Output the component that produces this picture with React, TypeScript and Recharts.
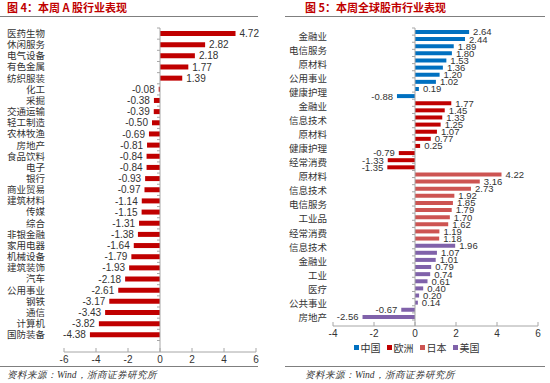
import React from 'react';
import { BarChart, Bar, XAxis, YAxis, Cell, LabelList, ReferenceLine, Legend } from 'recharts';

// ---------- Left chart: A-share industries ----------
const aShareCategories = [
  '医药生物', '休闲服务', '电气设备', '有色金属', '纺织服装', '化工', '采掘', '交通运输',
  '轻工制造', '农林牧渔', '房地产', '食品饮料', '电子', '银行', '商业贸易', '建筑材料',
  '传媒', '综合', '非银金融', '家用电器', '机械设备', '建筑装饰', '汽车', '公用事业',
  '钢铁', '通信', '计算机', '国防装备',
];
const aShareValues = [
  4.72, 2.82, 2.18, 1.77, 1.39, -0.08, -0.38, -0.39,
  -0.5, -0.69, -0.81, -0.84, -0.84, -0.93, -0.97, -1.14,
  -1.15, -1.31, -1.38, -1.64, -1.79, -1.93, -2.18, -2.61,
  -3.17, -3.43, -3.82, -4.38,
];
const leftTicks = [-6, -4, -2, 0, 2, 4, 6];

// ---------- Right chart: global industries ----------
const regionNames = ['中国', '欧洲', '日本', '美国'];
const regionColors = ['#0070C0', '#C00000', '#CD5452', '#8062AA'];
const cnLabels = ['金融业', '', '电信服务', '', '原材料', '', '公用事业', '', '健康护理', ''];
const cnValues = [2.64, 2.44, 1.89, 1.8, 1.53, 1.36, 1.2, 1.02, 0.19, -0.88];
const euLabels = ['金融业', '', '信息技术', '', '原材料', '', '健康护理', '', '经常消费', ''];
const euValues = [1.77, 1.45, 1.33, 1.25, 1.07, 0.77, 0.25, -0.79, -1.33, -1.35];
const jpLabels = ['原材料', '', '信息技术', '', '电信服务', '', '工业品', '', '经常消费', ''];
const jpValues = [4.22, 3.16, 2.73, 1.92, 1.85, 1.79, 1.7, 1.62, 1.19, 1.18];
const usLabels = ['信息技术', '', '金融业', '', '工业', '', '医疗', '', '公共事业', '', '房地产'];
const usValues = [1.96, 1.07, 1.01, 0.79, 0.74, 0.61, 0.4, 0.2, 0.14, -0.67, -2.56];
const rightTicks = [-4, -2, 0, 2, 4, 6];

const leftData = aShareCategories.map((name, i) => ({ idx: i, name, value: aShareValues[i] }));

const groups = [
  { labels: cnLabels, values: cnValues },
  { labels: euLabels, values: euValues },
  { labels: jpLabels, values: jpValues },
  { labels: usLabels, values: usValues },
];
const rightData: { idx: number; name: string; value: number; region: number }[] = [];
groups.forEach((g, r) => {
  g.values.forEach((v, i) => {
    rightData.push({ idx: rightData.length, name: g.labels[i], value: v, region: r });
  });
});

const CJK = '"Noto Sans CJK SC", "Noto Sans", sans-serif';
const NUM = '"Liberation Sans", Arial, sans-serif';
const TEXT = '#333333';
const AXIS = '#A6A6A6';

const makeYTick = (names: string[], fontSize: number, shift: (i: number) => number) => (props: any) => {
  const { x, y, payload } = props;
  const i = Number(payload.value);
  const t = names[i];
  if (!t) return <g />;
  return (
    <text x={x} y={y + shift(i)} dy="0.35em" textAnchor="end" fontSize={fontSize} fontFamily={CJK} fill={TEXT}>
      {t}
    </text>
  );
};

const makeXTick = (margin: number) => (props: any) => {
  const { x, y, payload } = props;
  return (
    <g>
      <line x1={x} x2={x} y1={y - margin} y2={y - margin - 4} stroke={AXIS} strokeWidth={1} />
      <text x={x} y={y} dy="0.71em" textAnchor="middle" fontSize={10} fontFamily={NUM} fill={TEXT}>
        {payload.value}
      </text>
    </g>
  );
};

const makeValueLabel = (fontSize: number) => (props: any) => {
  const { x, y, width, height, value } = props;
  const v = Number(value);
  const x0 = Number(x);
  const w = Number(width);
  const right = Math.max(x0, x0 + w);
  const left = Math.min(x0, x0 + w);
  const pos = v >= 0;
  return (
    <text
      x={pos ? right + 4 : left - 4}
      y={Number(y) + Number(height) / 2}
      dy="0.36em"
      textAnchor={pos ? 'start' : 'end'}
      fontSize={fontSize}
      fontFamily={NUM}
      fill={TEXT}
    >
      {v.toFixed(2)}
    </text>
  );
};

const makeZeroLine = (n: number, padTop: number, padBottom: number) => (props: any) => {
  const { x1, y1, y2 } = props;
  const top = Math.min(y1, y2);
  const bottom = Math.max(y1, y2);
  const band = (bottom - top - padTop - padBottom) / n;
  const marks = [];
  for (let k = 0; k <= n; k++) {
    const yy = top + padTop + k * band;
    marks.push(<line key={k} x1={x1 - 3} x2={x1} y1={yy} y2={yy} stroke={AXIS} strokeWidth={1} />);
  }
  return (
    <g>
      <line x1={x1} x2={x1} y1={top} y2={bottom} stroke={AXIS} strokeWidth={1} />
      {marks}
    </g>
  );
};

const renderLegend = () => (
  <div style={{ display: 'flex', justifyContent: 'center', paddingLeft: 20, fontFamily: CJK, fontSize: 10, color: TEXT }}>
    {regionNames.map((n, i) => (
      <div key={n} style={{ display: 'flex', alignItems: 'center', marginRight: i < regionNames.length - 1 ? 6 : 0 }}>
        <span style={{ display: 'inline-block', width: 5, height: 5, background: regionColors[i], marginRight: 2 }} />
        <span>{n}</span>
      </div>
    ))}
  </div>
);

const LEFT_PAD_BOTTOM = 11.5;
const RIGHT_PAD_BOTTOM = 6;

export default function App() {
  return (
    <div style={{ position: 'absolute', left: 0, top: 0, width: 550, height: 383, background: '#fff', overflow: 'hidden' }}>
      {/* Titles */}
      <div style={{ position: 'absolute', left: 7, top: 0, fontFamily: CJK, fontWeight: 700, fontSize: 11, lineHeight: '15px', color: '#C00000', whiteSpace: 'nowrap' }}>
        图 4：本周 A 股行业表现
      </div>
      <div style={{ position: 'absolute', left: 305, top: 0, fontFamily: CJK, fontWeight: 700, fontSize: 11, lineHeight: '15px', color: '#C00000', whiteSpace: 'nowrap' }}>
        图 5：本周全球股市行业表现
      </div>
      <div style={{ position: 'absolute', left: 0, top: 16, width: 258, height: 1, background: '#7F7F7F' }} />
      <div style={{ position: 'absolute', left: 285, top: 16, width: 260, height: 1, background: '#7F7F7F' }} />

      {/* Left chart */}
      <div style={{ position: 'absolute', left: 0, top: 0 }}>
        <BarChart width={275} height={375} data={leftData} layout="vertical" margin={{ top: 28, right: 19, bottom: 0, left: 0 }}>
          <XAxis
            type="number"
            domain={[-6, 6]}
            ticks={leftTicks}
            interval={0}
            height={23}
            axisLine={{ stroke: AXIS }}
            tickLine={false}
            tickSize={0}
            tickMargin={4}
            tick={makeXTick(4)}
          />
          <YAxis
            type="category"
            dataKey="idx"
            width={64}
            interval={0}
            axisLine={false}
            tickLine={false}
            tickSize={0}
            tickMargin={19}
            padding={{ top: 0, bottom: LEFT_PAD_BOTTOM }}
            tick={makeYTick(aShareCategories, 9.5, () => 0)}
          />
          <ReferenceLine x={0} shape={makeZeroLine(aShareCategories.length, 0, LEFT_PAD_BOTTOM)} />
          <Bar dataKey="value" fill="#C00000" barSize={5} isAnimationActive={false}>
            <LabelList dataKey="value" content={makeValueLabel(10)} />
          </Bar>
        </BarChart>
      </div>

      {/* Right chart */}
      <div style={{ position: 'absolute', left: 275, top: 0 }}>
        <BarChart width={275} height={360} data={rightData} layout="vertical" margin={{ top: 28, right: 12, bottom: 0, left: 0 }}>
          <XAxis
            type="number"
            domain={[-4, 6]}
            ticks={rightTicks}
            interval={0}
            height={14}
            axisLine={{ stroke: AXIS }}
            tickLine={false}
            tickSize={0}
            tickMargin={4}
            tick={makeXTick(4)}
          />
          <YAxis
            type="category"
            dataKey="idx"
            width={58}
            interval={0}
            axisLine={false}
            tickLine={false}
            tickSize={0}
            tickMargin={6}
            padding={{ top: 0, bottom: RIGHT_PAD_BOTTOM }}
            tick={makeYTick(rightData.map((d) => d.name), 9.5, (i) => 5 - (4 * i) / 40)}
          />
          <ReferenceLine x={0} shape={makeZeroLine(rightData.length, 0, RIGHT_PAD_BOTTOM)} />
          <Legend verticalAlign="bottom" height={20} content={renderLegend} />
          <Bar dataKey="value" barSize={4} isAnimationActive={false}>
            {rightData.map((d) => (
              <Cell key={d.idx} fill={regionColors[d.region]} />
            ))}
            <LabelList dataKey="value" content={makeValueLabel(9.5)} />
          </Bar>
        </BarChart>
      </div>

      {/* Footers */}
      <div style={{ position: 'absolute', left: 0, top: 366, width: 258, height: 1, background: '#7F7F7F' }} />
      <div style={{ position: 'absolute', left: 285, top: 366, width: 260, height: 1, background: '#7F7F7F' }} />
      <div style={{ position: 'absolute', left: 7, top: 368, fontFamily: '"Liberation Serif", serif', fontStyle: 'italic', fontSize: 9.5, lineHeight: '14px', color: TEXT, whiteSpace: 'nowrap' }}>
        资料来源：Wind，浙商证券研究所
      </div>
      <div style={{ position: 'absolute', left: 305, top: 368, fontFamily: '"Liberation Serif", serif', fontStyle: 'italic', fontSize: 9.5, lineHeight: '14px', color: TEXT, whiteSpace: 'nowrap' }}>
        资料来源：Wind，浙商证券研究所
      </div>
    </div>
  );
}
